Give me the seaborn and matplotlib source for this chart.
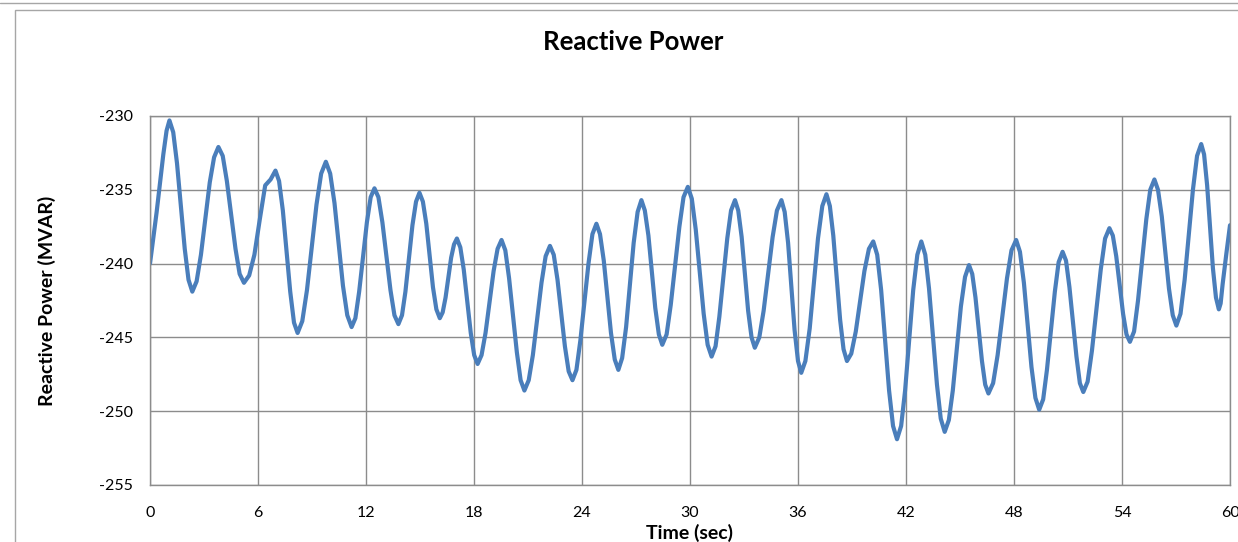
import pandas as pd
import matplotlib.pyplot as plt
import seaborn as sns
from matplotlib.patches import Rectangle
from matplotlib.lines import Line2D

# values (time in seconds, reactive power in MVAR)
time_s = [
    0.00, 0.37, 0.74, 0.92,
    1.08, 1.29, 1.50, 1.93, 2.14,
    2.35, 2.59, 2.83, 3.32, 3.56,
    3.80, 4.04, 4.27, 4.75, 4.98,
    5.22, 5.51, 5.80, 6.10, 6.40, 6.70,
    6.97, 7.17, 7.38, 7.79, 8.00,
    8.20, 8.46, 8.72, 9.25, 9.51,
    9.77, 10.01, 10.25, 10.72, 10.96,
    11.20, 11.41, 11.62, 12.05, 12.26,
    12.47, 12.69, 12.91, 13.36, 13.58,
    13.80, 14.00, 14.19, 14.58, 14.78,
    14.97, 15.16, 15.35, 15.72, 15.91,
    16.10, 16.26, 16.42, 16.73, 16.89,
    17.05, 17.24, 17.43, 17.82, 18.01,
    18.20, 18.42, 18.64, 19.09, 19.31,
    19.53, 19.74, 19.95, 20.38, 20.59,
    20.80, 21.04, 21.27, 21.75, 21.98,
    22.22, 22.43, 22.64, 23.05, 23.26,
    23.47, 23.69, 23.91, 24.36, 24.58,
    24.80, 25.00, 25.21, 25.61, 25.82,
    26.02, 26.23, 26.45, 26.87, 27.09,
    27.30, 27.49, 27.69, 28.07, 28.27,
    28.46, 28.70, 28.93, 29.41, 29.64,
    29.88, 30.10, 30.32, 30.76, 30.98,
    31.20, 31.42, 31.63, 32.07, 32.28,
    32.50, 32.68, 32.87, 33.23, 33.42,
    33.60, 33.85, 34.09, 34.59, 34.83,
    35.08, 35.26, 35.45, 35.81, 36.00,
    36.18, 36.41, 36.65, 37.11, 37.35,
    37.58, 37.77, 37.96, 38.34, 38.53,
    38.72, 38.96, 39.21, 39.69, 39.94,
    40.18, 40.40, 40.62, 41.06, 41.28,
    41.50, 41.73, 41.95, 42.40, 42.63,
    42.85, 43.07, 43.28, 43.72, 43.93,
    44.15, 44.38, 44.60, 45.05, 45.28,
    45.50, 45.68, 45.86, 46.22, 46.40,
    46.58, 46.84, 47.09, 47.61, 47.86,
    48.12, 48.33, 48.55, 48.97, 49.19,
    49.40, 49.62, 49.83, 50.27, 50.48,
    50.70, 50.89, 51.08, 51.47, 51.66,
    51.85, 52.09, 52.33, 52.82, 53.06,
    53.30, 53.49, 53.68, 54.06, 54.25,
    54.44, 54.67, 54.89, 55.35, 55.57,
    55.80, 56.00, 56.21, 56.61, 56.82,
    57.02, 57.25, 57.48, 57.94, 58.17,
    58.40, 58.56, 58.73, 59.05, 59.22,
    59.38, 59.48, 59.59, 59.80,
    60.00,
]

q_mvar = [
    -240.0, -236.5, -232.6, -231.0,
    -230.3, -231.1, -233.2, -239.0, -241.1,
    -241.9, -241.2, -239.4, -234.5, -232.8,
    -232.1, -232.7, -234.4, -239.0, -240.7,
    -241.3, -240.8, -239.4, -237.0, -234.7, -234.3,
    -233.7, -234.4, -236.4, -241.9, -244.0,
    -244.7, -243.9, -241.8, -236.0, -233.9,
    -233.1, -233.9, -235.9, -241.5, -243.5,
    -244.3, -243.7, -241.9, -237.2, -235.5,
    -234.9, -235.5, -237.2, -241.8, -243.5,
    -244.1, -243.5, -241.9, -237.4, -235.8,
    -235.2, -235.8, -237.3, -241.6, -243.1,
    -243.7, -243.3, -242.3, -239.6, -238.7,
    -238.3, -238.9, -240.4, -244.7, -246.2,
    -246.8, -246.2, -244.7, -240.5, -239.0,
    -238.4, -239.1, -241.0, -246.0, -247.9,
    -248.6, -247.9, -246.2, -241.3, -239.5,
    -238.8, -239.4, -241.1, -245.6, -247.3,
    -247.9, -247.2, -245.2, -240.0, -238.0,
    -237.3, -238.0, -239.8, -244.7, -246.5,
    -247.2, -246.4, -244.3, -238.6, -236.5,
    -235.7, -236.4, -238.1, -243.0, -244.8,
    -245.5, -244.8, -242.8, -237.5, -235.5,
    -234.8, -235.6, -237.7, -243.4, -245.5,
    -246.3, -245.6, -243.6, -238.3, -236.4,
    -235.7, -236.4, -238.2, -243.2, -245.0,
    -245.7, -245.0, -243.2, -238.2, -236.4,
    -235.7, -236.5, -238.6, -244.5, -246.6,
    -247.4, -246.6, -244.4, -238.3, -236.1,
    -235.3, -236.1, -238.1, -243.8, -245.8,
    -246.6, -246.1, -244.6, -240.5, -239.0,
    -238.5, -239.4, -241.8, -248.6, -251.0,
    -251.9, -251.0, -248.6, -241.8, -239.4,
    -238.5, -239.4, -241.7, -248.2, -250.5,
    -251.4, -250.6, -248.6, -242.9, -240.9,
    -240.1, -240.7, -242.3, -246.6, -248.2,
    -248.8, -248.1, -246.2, -241.0, -239.1,
    -238.4, -239.2, -241.3, -247.0, -249.1,
    -249.9, -249.2, -247.2, -241.9, -239.9,
    -239.2, -239.8, -241.6, -246.3, -248.1,
    -248.7, -248.0, -245.9, -240.4, -238.3,
    -237.6, -238.1, -239.5, -243.4, -244.8,
    -245.3, -244.6, -242.5, -237.0, -235.0,
    -234.3, -235.0, -236.8, -241.7, -243.5,
    -244.2, -243.4, -241.1, -235.0, -232.7,
    -231.9, -232.6, -234.7, -240.3, -242.3,
    -243.1, -242.7, -241.4, -239.3,
    -237.4,
]

x_ticks = [0, 6, 12, 18, 24, 30, 36, 42, 48, 54, 60]
y_ticks = [-255, -250, -245, -240, -235, -230]

LINE_COLOR = "#4a7ebb"
GRID_COLOR = "#8c8c8c"


def main():
    df = pd.DataFrame({"Time (sec)": time_s, "Reactive Power (MVAR)": q_mvar})

    sns.set_style("white")
    plt.rcParams["font.family"] = ["Lato", "DejaVu Sans"]
    plt.rcParams["axes.unicode_minus"] = False
    plt.rcParams["text.color"] = "black"
    plt.rcParams["axes.labelcolor"] = "black"

    fig = plt.figure(figsize=(12.38, 5.42), dpi=100)
    ax = fig.add_axes([150 / 1238, 1 - 485 / 542, 1080 / 1238, 369 / 542])

    sns.lineplot(data=df, x="Time (sec)", y="Reactive Power (MVAR)", ax=ax,
                 color=LINE_COLOR, linewidth=3.0, solid_joinstyle="round")

    ax.set_xlim(0, 60)
    ax.set_ylim(-255, -230)
    ax.set_xticks(x_ticks)
    ax.set_yticks(y_ticks)
    ax.grid(True, color=GRID_COLOR, linewidth=1.0)
    for side in ["left", "bottom", "top", "right"]:
        ax.spines[side].set_color(GRID_COLOR)
        ax.spines[side].set_linewidth(1.0)
    ax.tick_params(axis="both", direction="out", length=5, width=1.0,
                   color=GRID_COLOR, labelsize=11.5, labelcolor="black")
    ax.tick_params(axis="x", pad=10)
    ax.tick_params(axis="y", pad=7)

    ax.set_xlabel("Time (sec)", fontsize=14, fontweight="bold", labelpad=3,
                  color="black")
    ax.set_ylabel("Reactive Power (MVAR)", fontsize=14, fontweight="bold",
                  labelpad=31, color="black")

    fig.text(633 / 1238, 1 - 42 / 542, "Reactive Power", ha="center", va="center",
             fontsize=18.5, fontweight="bold", color="black")

    # chart frame as in the spreadsheet export
    fig.add_artist(Rectangle((15 / 1238, -0.1), 1.2, 1 - 10 / 542 + 0.1,
                             transform=fig.transFigure, fill=False,
                             edgecolor="#a6a6a6", linewidth=1.0))
    fig.add_artist(Line2D([0, 1], [1 - 3 / 542, 1 - 3 / 542],
                          transform=fig.transFigure, color="#a6a6a6", linewidth=1.0))

    fig.savefig("out.png", dpi=100)


if __name__ == "__main__":
    main()
